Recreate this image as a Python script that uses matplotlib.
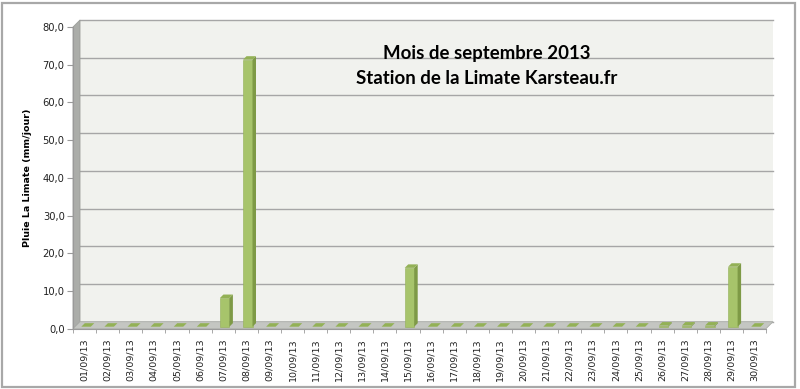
import numpy as np
import matplotlib
matplotlib.use('Agg')
import matplotlib.pyplot as plt
from matplotlib.patches import Polygon, Rectangle

# daily rain, september 2013
days = ['%02d/09/13' % d for d in range(1, 31)]
rain = [0.0, 0.0, 0.0, 0.0, 0.0, 0.0, 7.6, 70.8, 0.0, 0.0,
        0.0, 0.0, 0.0, 0.0, 15.6, 0.0, 0.0, 0.0, 0.0, 0.0,
        0.0, 0.0, 0.0, 0.0, 0.0, 0.3, 0.3, 0.3, 15.9, 0.0]
yticks = [0, 10, 20, 30, 40, 50, 60, 70, 80]
ylabels = ['%d,0' % v for v in yticks]
title = 'Mois de septembre 2013\nStation de la Limate Karsteau.fr'
ylab = 'Pluie La Limate (mm/jour)'

W, H = 800, 389
fig = plt.figure(figsize=(W / 100, H / 100), dpi=100)

# outer frame
fig.patches.append(Rectangle((1.5 / W, 2.5 / H), 793 / W, 384 / H, transform=fig.transFigure,
                             facecolor='none', edgecolor='#a8a8a8', lw=1.6, zorder=-1))

# front plane of the 3d box
x0, x1, ytop, ybot = 73, 766, 27, 328.7
ax = fig.add_axes([x0 / W, (H - ybot) / H, (x1 - x0) / W, (ybot - ytop) / H])
ax.set_facecolor('none')
n = len(days)
ax.set_xlim(-0.5, n - 0.5)
ax.set_ylim(0, 80)

axw, axh = x1 - x0, ybot - ytop
depth = 7.0
dxa, dya = depth / axw, depth / axh
px_x = (n) / axw     # data units per pixel
px_y = 80.0 / axh

# back wall, left wall, floor
ax.add_patch(Polygon([(dxa, dya), (1 + dxa, dya), (1 + dxa, 1 + dya), (dxa, 1 + dya)],
                     closed=True, transform=ax.transAxes, facecolor='#f1f2ee',
                     edgecolor='none', clip_on=False, zorder=0))
ax.add_patch(Polygon([(0, 0), (0, 1), (dxa, 1 + dya), (dxa, dya)], closed=True,
                     transform=ax.transAxes, facecolor='#abada9', edgecolor='#9c9e9a',
                     lw=0.6, clip_on=False, zorder=1))
ax.add_patch(Polygon([(0, 0), (1, 0), (1 + dxa, dya), (dxa, dya)], closed=True,
                     transform=ax.transAxes, facecolor='#c4c6c2', edgecolor='#a9aba7',
                     lw=0.6, clip_on=False, zorder=1))
for v in yticks:
    yy = v / 80.0 + dya
    ax.plot([dxa, 1 + dxa], [yy, yy], transform=ax.transAxes, color='#a6a6a6',
            lw=1.0, clip_on=False, zorder=0.5)

# 3d bars
bw = 9.5 * px_x
ox, oy = 1.5 * px_x, 2.0 * px_y
dd_x, dd_y = 3.5 * px_x, 3.5 * px_y
for i, v in enumerate(rain):
    l = i - bw / 2 + ox
    r = i + bw / 2 + ox
    b = oy
    t = oy + v
    if v > 0:
        ax.add_patch(Polygon([(l, b), (r, b), (r, t), (l, t)], closed=True,
                             facecolor='#a7c46b', edgecolor='#93b057', lw=0.4,
                             clip_on=False, zorder=3))
        ax.add_patch(Polygon([(r, b), (r + dd_x, b + dd_y), (r + dd_x, t + dd_y), (r, t)],
                             closed=True, facecolor='#7e9a46', edgecolor='none',
                             clip_on=False, zorder=3))
    ax.add_patch(Polygon([(l, t), (r, t), (r + dd_x, t + dd_y), (l + dd_x, t + dd_y)],
                         closed=True, facecolor='#93b156', edgecolor='none',
                         clip_on=False, zorder=3))

# axes styling
for s in ['top', 'right']:
    ax.spines[s].set_visible(False)
for s in ['left', 'bottom']:
    ax.spines[s].set_color('#9a9a9a')
    ax.spines[s].set_linewidth(0.8)
ax.set_yticks(yticks)
ax.set_yticklabels(ylabels, fontsize=7.2, color='#222222')
ax.tick_params(axis='y', length=4, color='#9a9a9a', pad=2)
ax.set_xticks(range(n))
ax.set_xticklabels(days, rotation=90, fontsize=6.8, color='#222222')
ax.set_xticks(np.arange(-0.5, n, 1.0), minor=True)
ax.tick_params(axis='x', which='major', length=0, pad=7)
ax.tick_params(axis='x', which='minor', length=3, color='#9a9a9a')
ax.set_ylabel(ylab, fontsize=6.8, fontweight='bold', labelpad=8)

ax.text(0.597, 0.94, title, transform=ax.transAxes, ha='center', va='top',
        fontsize=13.4, fontweight='bold', family=['Lato', 'DejaVu Sans'],
        linespacing=1.55, zorder=5)

fig.savefig('out.png', dpi=100)
